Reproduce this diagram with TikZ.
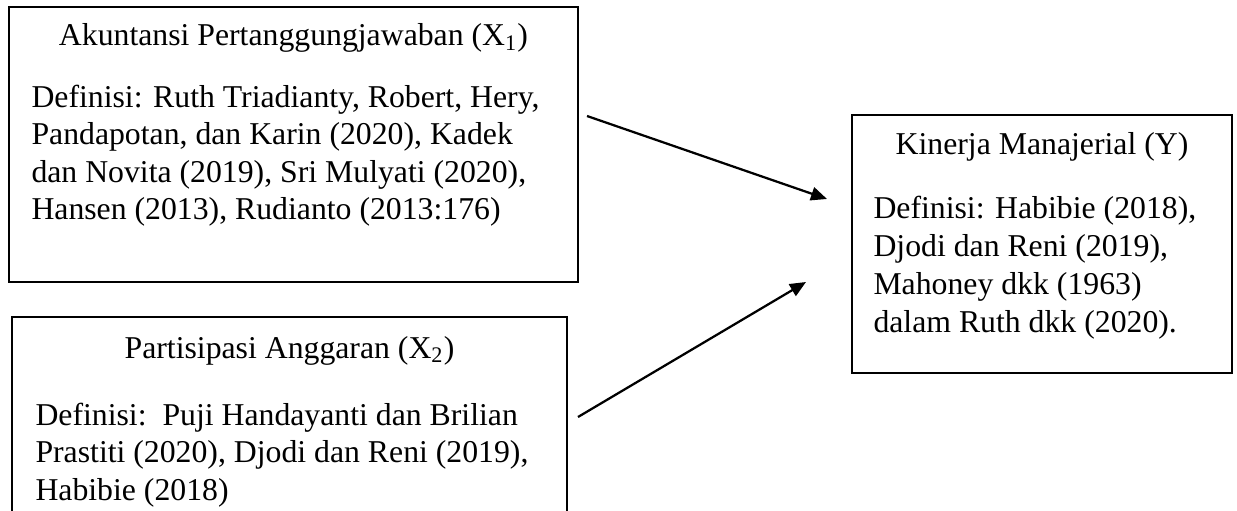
\documentclass[tikz,border=0pt]{standalone}
\usepackage{fontspec}
\setmainfont{Liberation Serif}
\usetikzlibrary{arrows.meta}

\tikzset{
  kotak/.style={draw=black, line width=0.8pt, inner sep=0pt},
  judul/.style={inner sep=0pt, anchor=base, font=\fontsize{12.7}{15}\selectfont},
  isi/.style={inner sep=0pt, anchor=base west, align=left, font=\fontsize{12.7}{#1}\selectfont},
  isi/.default=15pt,
  panah/.style={black, line width=0.9pt, -{Triangle[length=6.4pt, width=5.4pt]}}
}

\begin{document}
\begin{tikzpicture}[x=0.4pt, y=-0.4pt]
\useasboundingbox (0,0) rectangle (1237,511);

% X1
\node[kotak, minimum width=227.6pt, minimum height=110pt] (x1) at (293.5,144.5) {};
\node[judul] (x1judul) at (293.5,46) {Akuntansi Pertanggungjawaban (X\textsubscript{1})};
% base = baris terakhir
\node[isi=15pt] (x1isi) at (31,220) {Definisi: Ruth Triadianty, Robert, Hery,\\
Pandapotan, dan Karin (2020), Kadek\\
dan Novita (2019), Sri Mulyati (2020),\\
Hansen (2013), Rudianto (2013:176)};

% X2
\node[kotak, minimum width=222pt, minimum height=97.2pt] (x2) at (289.5,438.5) {};
\node[judul] (x2judul) at (289.5,358) {Partisipasi Anggaran (X\textsubscript{2})};
\node[isi=15pt] (x2isi) at (35,500) {Definisi:\ \ Puji Handayanti dan Brilian\\
Prastiti (2020), Djodi dan Reni (2019),\\
Habibie (2018)};

% Y
\node[kotak, minimum width=152pt, minimum height=103.2pt] (y) at (1042,244) {};
\node[judul] (yjudul) at (1042,155) {Kinerja Manajerial (Y)};
\node[isi=15.2pt] (yisi) at (873,333) {Definisi: Habibie (2018),\\
Djodi dan Reni (2019),\\
Mahoney dkk (1963)\\
dalam Ruth dkk (2020).};

% panah
\coordinate (p1a) at (587,116);
\coordinate (p1b) at (827,199);
\coordinate (p2a) at (578,417);
\coordinate (p2b) at (806,282);
\draw[panah] (p1a) -- (p1b);
\draw[panah] (p2a) -- (p2b);
\end{tikzpicture}
\end{document}
